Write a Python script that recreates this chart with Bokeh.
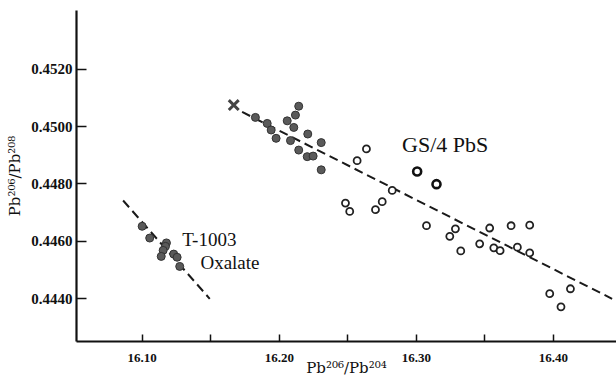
from bokeh.plotting import figure
from bokeh.models import FixedTicker, NumeralTickFormatter, Range1d
from bokeh.core.properties import value
from bokeh.embed import file_html
from bokeh.resources import INLINE

# ---- data ----
t1003_x = [16.1000, 16.1055, 16.1177, 16.1170, 16.1153, 16.1139, 16.1230, 16.1255, 16.1274]
t1003_y = [0.44652, 0.44611, 0.44594, 0.44582, 0.44568, 0.44547, 0.44555, 0.44544, 0.44512]

gs4_filled_x = [16.1826, 16.1912, 16.1941, 16.2142, 16.2118, 16.2058, 16.2106, 16.2208,
                16.1977, 16.2082, 16.2306, 16.2142, 16.2204, 16.2247, 16.2306]
gs4_filled_y = [0.45032, 0.45011, 0.44988, 0.45071, 0.45040, 0.45020, 0.44997, 0.44974,
                0.44959, 0.44951, 0.44944, 0.44918, 0.44895, 0.44897, 0.44849]

gs4_open_x = [16.2636, 16.2568, 16.2824, 16.2483, 16.2514, 16.2751, 16.2702, 16.3074,
              16.3285, 16.3244, 16.3535, 16.3462, 16.3324, 16.3565, 16.3611, 16.3691,
              16.3827, 16.3737, 16.3827, 16.4124, 16.3973, 16.4055]
gs4_open_y = [0.44922, 0.44881, 0.44777, 0.44733, 0.44704, 0.44738, 0.44710, 0.44654,
              0.44643, 0.44617, 0.44646, 0.44591, 0.44566, 0.44577, 0.44567, 0.44654,
              0.44656, 0.44579, 0.44559, 0.44434, 0.44417, 0.44371]

gs4_bold_x = [16.3006, 16.3147]
gs4_bold_y = [0.44843, 0.44799]

cross_x = [16.1668]
cross_y = [0.45075]

gs4_line_x = [16.1729, 16.4428]
gs4_line_y = [0.45051, 0.44399]
t1003_line_x = [16.0861, 16.1493]
t1003_line_y = [0.44742, 0.44399]

x_ticks = [16.10, 16.20, 16.30, 16.40]
x_minor_ticks = [16.15, 16.25, 16.35]
y_ticks = [0.4440, 0.4460, 0.4480, 0.4500, 0.4520]

labels_text = ["T-1003", "Oxalate", "GS/4 PbS"]
labels_x = [16.1292, 16.1425, 16.2896]
labels_y = [0.44605, 0.44525, 0.44936]
labels_size = ["19px", "19px", "22px"]

SERIF = "Liberation Serif"
LABEL_SERIF = "DejaVu Serif"

p = figure(width=616, height=379, output_backend="svg", toolbar_location=None,
           x_range=Range1d(16.0521, 16.4460), y_range=Range1d(0.44250, 0.45405),
           min_border_left=76, min_border_right=0, min_border_top=10, min_border_bottom=37)
p.outline_line_color = None
p.grid.grid_line_color = None
p.background_fill_color = "white"
p.border_fill_color = "white"

# axes
p.xaxis.ticker = FixedTicker(ticks=x_ticks, minor_ticks=x_minor_ticks)
p.yaxis.ticker = FixedTicker(ticks=y_ticks)
p.xaxis.formatter = NumeralTickFormatter(format="0.00")
p.yaxis.formatter = NumeralTickFormatter(format="0.0000")
for ax in (p.xaxis, p.yaxis):
    ax.axis_line_width = 2.2
    ax.axis_line_color = "#111"
    ax.major_tick_line_color = "#111"
    ax.major_tick_line_width = 1.5
    ax.minor_tick_line_color = "#111"
    ax.minor_tick_line_width = 1.5
    ax.major_tick_out = 0
    ax.minor_tick_out = 0
    ax.major_label_text_font = SERIF
    ax.major_label_text_font_style = "bold"
    ax.major_label_text_color = "#111"
    ax.axis_label_text_font = LABEL_SERIF
    ax.axis_label_text_font_style = "normal"
    ax.axis_label_text_color = "#111"
p.xaxis.major_tick_in = 7
p.xaxis.minor_tick_in = 7
p.yaxis.major_tick_in = 10
p.yaxis.minor_tick_in = 0
p.xaxis.major_label_text_font_size = "13px"
p.yaxis.major_label_text_font_size = "15px"
p.xaxis.major_label_standoff = 12
p.yaxis.major_label_standoff = 4
p.xaxis.axis_label = "Pb²⁰⁶/Pb²⁰⁴"
p.yaxis.axis_label = "Pb²⁰⁶/Pb²⁰⁸"
p.xaxis.axis_label_text_font_size = "15px"
p.yaxis.axis_label_text_font_size = "15px"
p.xaxis.axis_label_standoff = -6
p.yaxis.axis_label_standoff = 4

# fitted dashed lines
p.line(gs4_line_x, gs4_line_y, line_color="#1a1a1a", line_width=2, line_dash="9 5")
p.line(t1003_line_x, t1003_line_y, line_color="#1a1a1a", line_width=2, line_dash="9 5")

# points
p.scatter(t1003_x, t1003_y, marker="circle", size=8, fill_color="#5a5a5a",
          line_color="#333333", line_width=1)
p.scatter(gs4_filled_x, gs4_filled_y, marker="circle", size=8, fill_color="#5a5a5a",
          line_color="#333333", line_width=1)
p.scatter(gs4_open_x, gs4_open_y, marker="circle", size=7, fill_color="white",
          line_color="#222222", line_width=1.8)
p.scatter(gs4_bold_x, gs4_bold_y, marker="circle", size=8, fill_color="white",
          line_color="#111111", line_width=2.6)
p.scatter(cross_x, cross_y, marker="x", size=14, line_color="#444444", line_width=3)

# text labels
for t, lx, ly, fs in zip(labels_text, labels_x, labels_y, labels_size):
    p.text([lx], [ly], text=[t], text_font=value(SERIF), text_font_size=fs,
           text_align="left", text_baseline="middle", text_color="#111111")

open("out.html", "w").write(file_html(p, INLINE))
